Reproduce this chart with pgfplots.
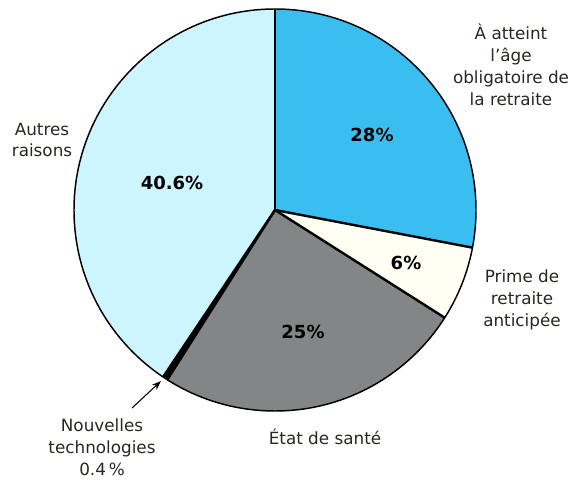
\documentclass[border=0pt]{standalone}
\usepackage{pgfplots}
\pgfplotsset{compat=1.18}
\usepackage{pgfplotstable}
\usepackage{fontspec}
\setmainfont{DejaVu Sans}
\usetikzlibrary{arrows.meta}
\definecolor{cA}{RGB}{58,190,240}
\definecolor{cB}{RGB}{255,255,244}
\definecolor{cC}{RGB}{130,134,134}
\definecolor{cD}{RGB}{0,0,0}
\definecolor{cE}{RGB}{205,245,255}
\definecolor{txt}{RGB}{40,40,30}

\pgfplotstableread{
label value col
atteint 28 cA
prime 6 cB
sante 25 cC
techno 0.4 cD
autres 40.6 cE
}\piedata

\begin{document}
\begin{tikzpicture}
\begin{axis}[
  hide axis, scale only axis, clip=false,
  width=432.75pt, height=363.75pt,
  xmin=0, xmax=577, ymin=0, ymax=485,
]
\path (axis cs:0,0) rectangle (axis cs:577,485);
\def\R{150.75pt}
\pgfmathsetmacro\cum{0}
\pgfplotsforeachungrouped \i in {0,...,4}{%
  \pgfplotstablegetelem{\i}{value}\of\piedata \let\v\pgfplotsretval
  \pgfplotstablegetelem{\i}{col}\of\piedata \let\c\pgfplotsretval
  \pgfmathsetmacro\sa{90-3.6*\cum}%
  \pgfmathsetmacro\ea{90-3.6*(\cum+\v)}%
  \edef\tmp{\noexpand\fill[fill=\c] (axis cs:275,275) -- ++(\sa:\R) arc[start angle=\sa, end angle=\ea, radius=\R] -- cycle;}%
  \tmp
  \pgfmathsetmacro\cum{\cum+\v}%
}
\pgfmathsetmacro\cum{0}
\pgfplotsforeachungrouped \i in {0,...,4}{%
  \pgfplotstablegetelem{\i}{value}\of\piedata \let\v\pgfplotsretval
  \pgfmathsetmacro\sa{90-3.6*\cum}%
  \edef\tmp{\noexpand\draw[black, line width=1.8pt] (axis cs:275,275) -- ++(\sa:\R);}%
  \tmp
  \pgfmathsetmacro\cum{\cum+\v}%
}
\draw[black, line width=1.1pt] (axis cs:275,275) circle[radius=\R];

\begin{scope}[every node/.style={text=txt, align=center, font=\fontsize{12.6}{16.5}\selectfont}]
\node at (axis cs:511,420) {À atteint\\l'âge\\obligatoire de\\la retraite};
\node at (axis cs:522,185) {Prime de\\retraite\\anticipée};
\node at (axis cs:325,48) {État de santé};
\node at (axis cs:102,38) {Nouvelles\\technologies\\0.4\,\%};
\node at (axis cs:42,345) {Autres\\raisons};
\end{scope}
\begin{scope}[every node/.style={text=black, font=\fontsize{13.5}{16}\selectfont\bfseries}]
\node at (axis cs:372,350) {28\%};
\node at (axis cs:406,222) {6\%};
\node at (axis cs:303,153) {25\%};
\node at (axis cs:172,302) {40.6\%};
\end{scope}
\draw[-{Stealth[length=7pt,width=5pt]}, line width=0.8pt, black] (axis cs:132,77) -- (axis cs:161,104);
\end{axis}
\end{tikzpicture}
\end{document}
